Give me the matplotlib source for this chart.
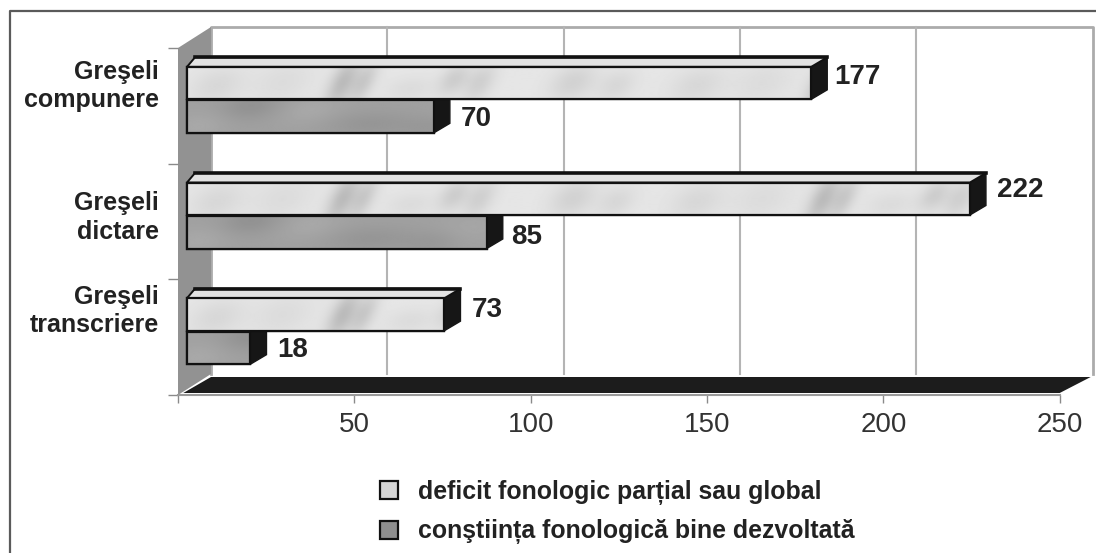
import numpy as np
import matplotlib
matplotlib.use('Agg')
import matplotlib.pyplot as plt
from matplotlib.lines import Line2D
from matplotlib.patches import Polygon

plt.rcParams['font.family'] = ['Liberation Sans', 'DejaVu Sans']

# values
categories = ['Greşeli\ncompunere', 'Greşeli\ndictare', 'Greşeli\ntranscriere']
deficit = [177, 222, 73]
constiinta = [70, 85, 18]
x_ticks = [50, 100, 150, 200, 250]
series_names = ['deficit fonologic parțial sau global',
                'conştiința fonologică bine dezvoltată']

W, H = 1096, 553
LEFT, RIGHT, TOP, BOTTOM = 178, 1059.7, 48, 395

fig = plt.figure(figsize=(W / 100, H / 100), dpi=100)
ax = fig.add_axes([LEFT / W, 1 - BOTTOM / H, (RIGHT - LEFT) / W, (BOTTOM - TOP) / H])
ax.set_xlim(0, 250)
ax.set_ylim(2.5, -0.5)
ax.set_autoscale_on(False)
ax.patch.set_alpha(0)
for s in ax.spines.values():
    s.set_visible(False)

# one pixel in data units
px = 250 / (RIGHT - LEFT)
py = 3 / (BOTTOM - TOP)

# outer frame, open at right and bottom
frame = Line2D([10 / W, 10 / W, 1], [0, 1 - 11 / H, 1 - 11 / H],
               transform=fig.transFigure, color='#5a5a5a', lw=1.6)
fig.add_artist(frame)

# back wall, left wall, floor
wall_x = 33 * px
wall_y = 21 * py
ax.plot([wall_x, wall_x, 250 + wall_x, 250 + wall_x],
        [2.5 - wall_y, -0.5 - wall_y, -0.5 - wall_y, 2.5 - wall_y],
        color='#ababab', lw=2, clip_on=False, zorder=1)
for t in x_ticks[:-1]:
    ax.plot([t + wall_x, t + wall_x], [-0.5 - wall_y, 2.5 - wall_y],
            color='#b4b4b4', lw=1.5, clip_on=False, zorder=1)
ax.add_patch(Polygon([(0, -0.5), (wall_x, -0.5 - wall_y), (wall_x, 2.5 - wall_y), (0, 2.5)],
                     facecolor='#929292', edgecolor='none', clip_on=False, zorder=1))
ax.add_patch(Polygon([(1.5, 2.5 - 2 * py), (wall_x, 2.5 - wall_y + 3 * py),
                      (250 + wall_x - 2 * px, 2.5 - wall_y + 3 * py), (250, 2.5 - 2 * py)],
                     facecolor='#1c1c1c', edgecolor='none', clip_on=False, zorder=1.5))
ax.plot([0, 250], [2.5, 2.5], color='#9a9a9a', lw=1.5, clip_on=False, zorder=1.6)

# ticks
ax.set_xticks([0] + x_ticks)
ax.set_xticklabels([''] + [str(t) for t in x_ticks], fontsize=20, color='#333333')
ax.tick_params(axis='x', length=6, width=1, color='#8a8a8a', pad=6)
ax.set_yticks([-0.5, 0.5, 1.5, 2.5])
ax.set_yticklabels([])
ax.tick_params(axis='y', length=7, width=1, color='#8a8a8a')


def texture(value, height, base, blobs):
    # soft mottling that repeats along the bar, like the tiled fill in the original
    w = max(int(value / px), 2)
    u, v = np.meshgrid(np.arange(w), np.linspace(0, 1, height))
    img = np.full(u.shape, float(base))
    for x0, y0, sx, sy, amp in blobs:
        for k in range(2):
            du = u - (x0 + 480 * k) + 14 * (v - 0.5)
            img += amp * np.exp(-(du / sx) ** 2 - ((v - y0) / sy) ** 2)
    return img


LIGHT_BLOBS = [(155, 0.5, 13, 0.8, -42), (176, 0.5, 11, 0.7, -28), (30, 0.6, 26, 0.6, -14),
               (95, 0.5, 30, 0.7, -10), (265, 0.4, 14, 0.5, -24), (292, 0.5, 14, 0.6, -22),
               (385, 0.5, 22, 0.6, -20), (430, 0.6, 18, 0.5, -14), (225, 0.7, 24, 0.4, -10)]
DARK_BLOBS = [(58, 0.15, 30, 0.45, -14), (120, 0.3, 30, 0.5, 8), (185, 0.75, 45, 0.4, -10),
              (15, 0.8, 30, 0.5, 8), (250, 0.85, 28, 0.4, -8), (280, 0.4, 34, 0.5, 6)]

bar_h = 32.5 * py
shift = -6 * py
start = 9 * px
dx = 16 * px
dy = 9.5 * py
lab_off = {0: [(23, -6), (27, 2)], 1: [(27, -9), (24, 5)], 2: [(27, -4), (27, 2)]}

legend_handles = []
# dark series first, the light bars sit over its hidden top
for j, (vals, base, blobs, fc) in enumerate([(constiinta, 160, DARK_BLOBS, '#8f8f8f'),
                                             (deficit, 230, LIGHT_BLOBS, '#d6d6d6')]):
    order = 1 - j   # 0 = deficit, 1 = constiinta
    ys = np.arange(len(categories)) + shift + (order - 0.5) * (bar_h + py)
    z = 3 + j
    left = [start] * len(vals)
    bars = ax.barh(ys, vals, height=bar_h, left=left, color=fc, edgecolor='#111111',
                   linewidth=1.6, zorder=z, label=series_names[order])
    legend_handles.insert(0, bars[0])
    for i, (bar, v, y) in enumerate(zip(bars, vals, ys)):
        bar.set_clip_on(False)
        x1 = start + v
        y0, y1 = y - bar_h / 2, y + bar_h / 2
        # black end of the bar
        ax.add_patch(Polygon([(x1, y0), (x1 + dx, y0 - dy), (x1 + dx, y1 - dy), (x1, y1)],
                             facecolor='#161616', edgecolor='#161616', lw=1,
                             clip_on=False, zorder=z))
        if order == 0:
            # top of the bar
            top = Polygon([(start, y0), (start + 8 * px, y0 - dy), (x1 + dx, y0 - dy), (x1, y0)],
                          facecolor='#e2e2e2', edgecolor='#111111', lw=1.4,
                          clip_on=False, zorder=z)
            ax.add_patch(top)
            ax.plot([start + 8 * px, x1 + dx], [y0 - dy, y0 - dy], color='#111111', lw=2.6,
                    clip_on=False, zorder=z + 0.3)
        img = texture(v, 32, base, blobs)
        im = ax.imshow(img, cmap='gray', vmin=0, vmax=255, aspect='auto',
                       extent=(start, x1, y1, y0), interpolation='bilinear', zorder=z + 0.1)
        im.set_clip_path(bar)
        ax.barh(y, v, height=bar_h, left=start, fill=False, edgecolor='#111111',
                linewidth=1.6, zorder=z + 0.2, clip_on=False)
        ox, oy = lab_off[i][order]
        ax.annotate(str(v), xy=(x1, y), xytext=(ox, -oy), textcoords='offset pixels',
                    ha='left', va='center', fontsize=20, fontweight='bold', color='#222222',
                    zorder=6)

# category labels sit a bit higher than the band centres
label_dy = [20, 4, 26]
for i, c in enumerate(categories):
    ax.annotate(c, xy=(0, i), xytext=(-19, label_dy[i]), textcoords='offset pixels',
                ha='right', va='center', multialignment='right', fontsize=18,
                fontweight='bold', color='#222222', linespacing=1.24, annotation_clip=False)

leg = ax.legend(legend_handles, series_names, loc='upper left',
                bbox_to_anchor=((370 - LEFT) / (RIGHT - LEFT), 1 - (470 - TOP) / (BOTTOM - TOP)),
                frameon=False, fontsize=17.9, handlelength=0.74, handleheight=0.74,
                handletextpad=0.8, labelspacing=0.58, borderpad=0.4, borderaxespad=0)
for t in leg.get_texts():
    t.set_fontweight('bold')
    t.set_color('#222222')

fig.savefig('out.png', dpi=100)
